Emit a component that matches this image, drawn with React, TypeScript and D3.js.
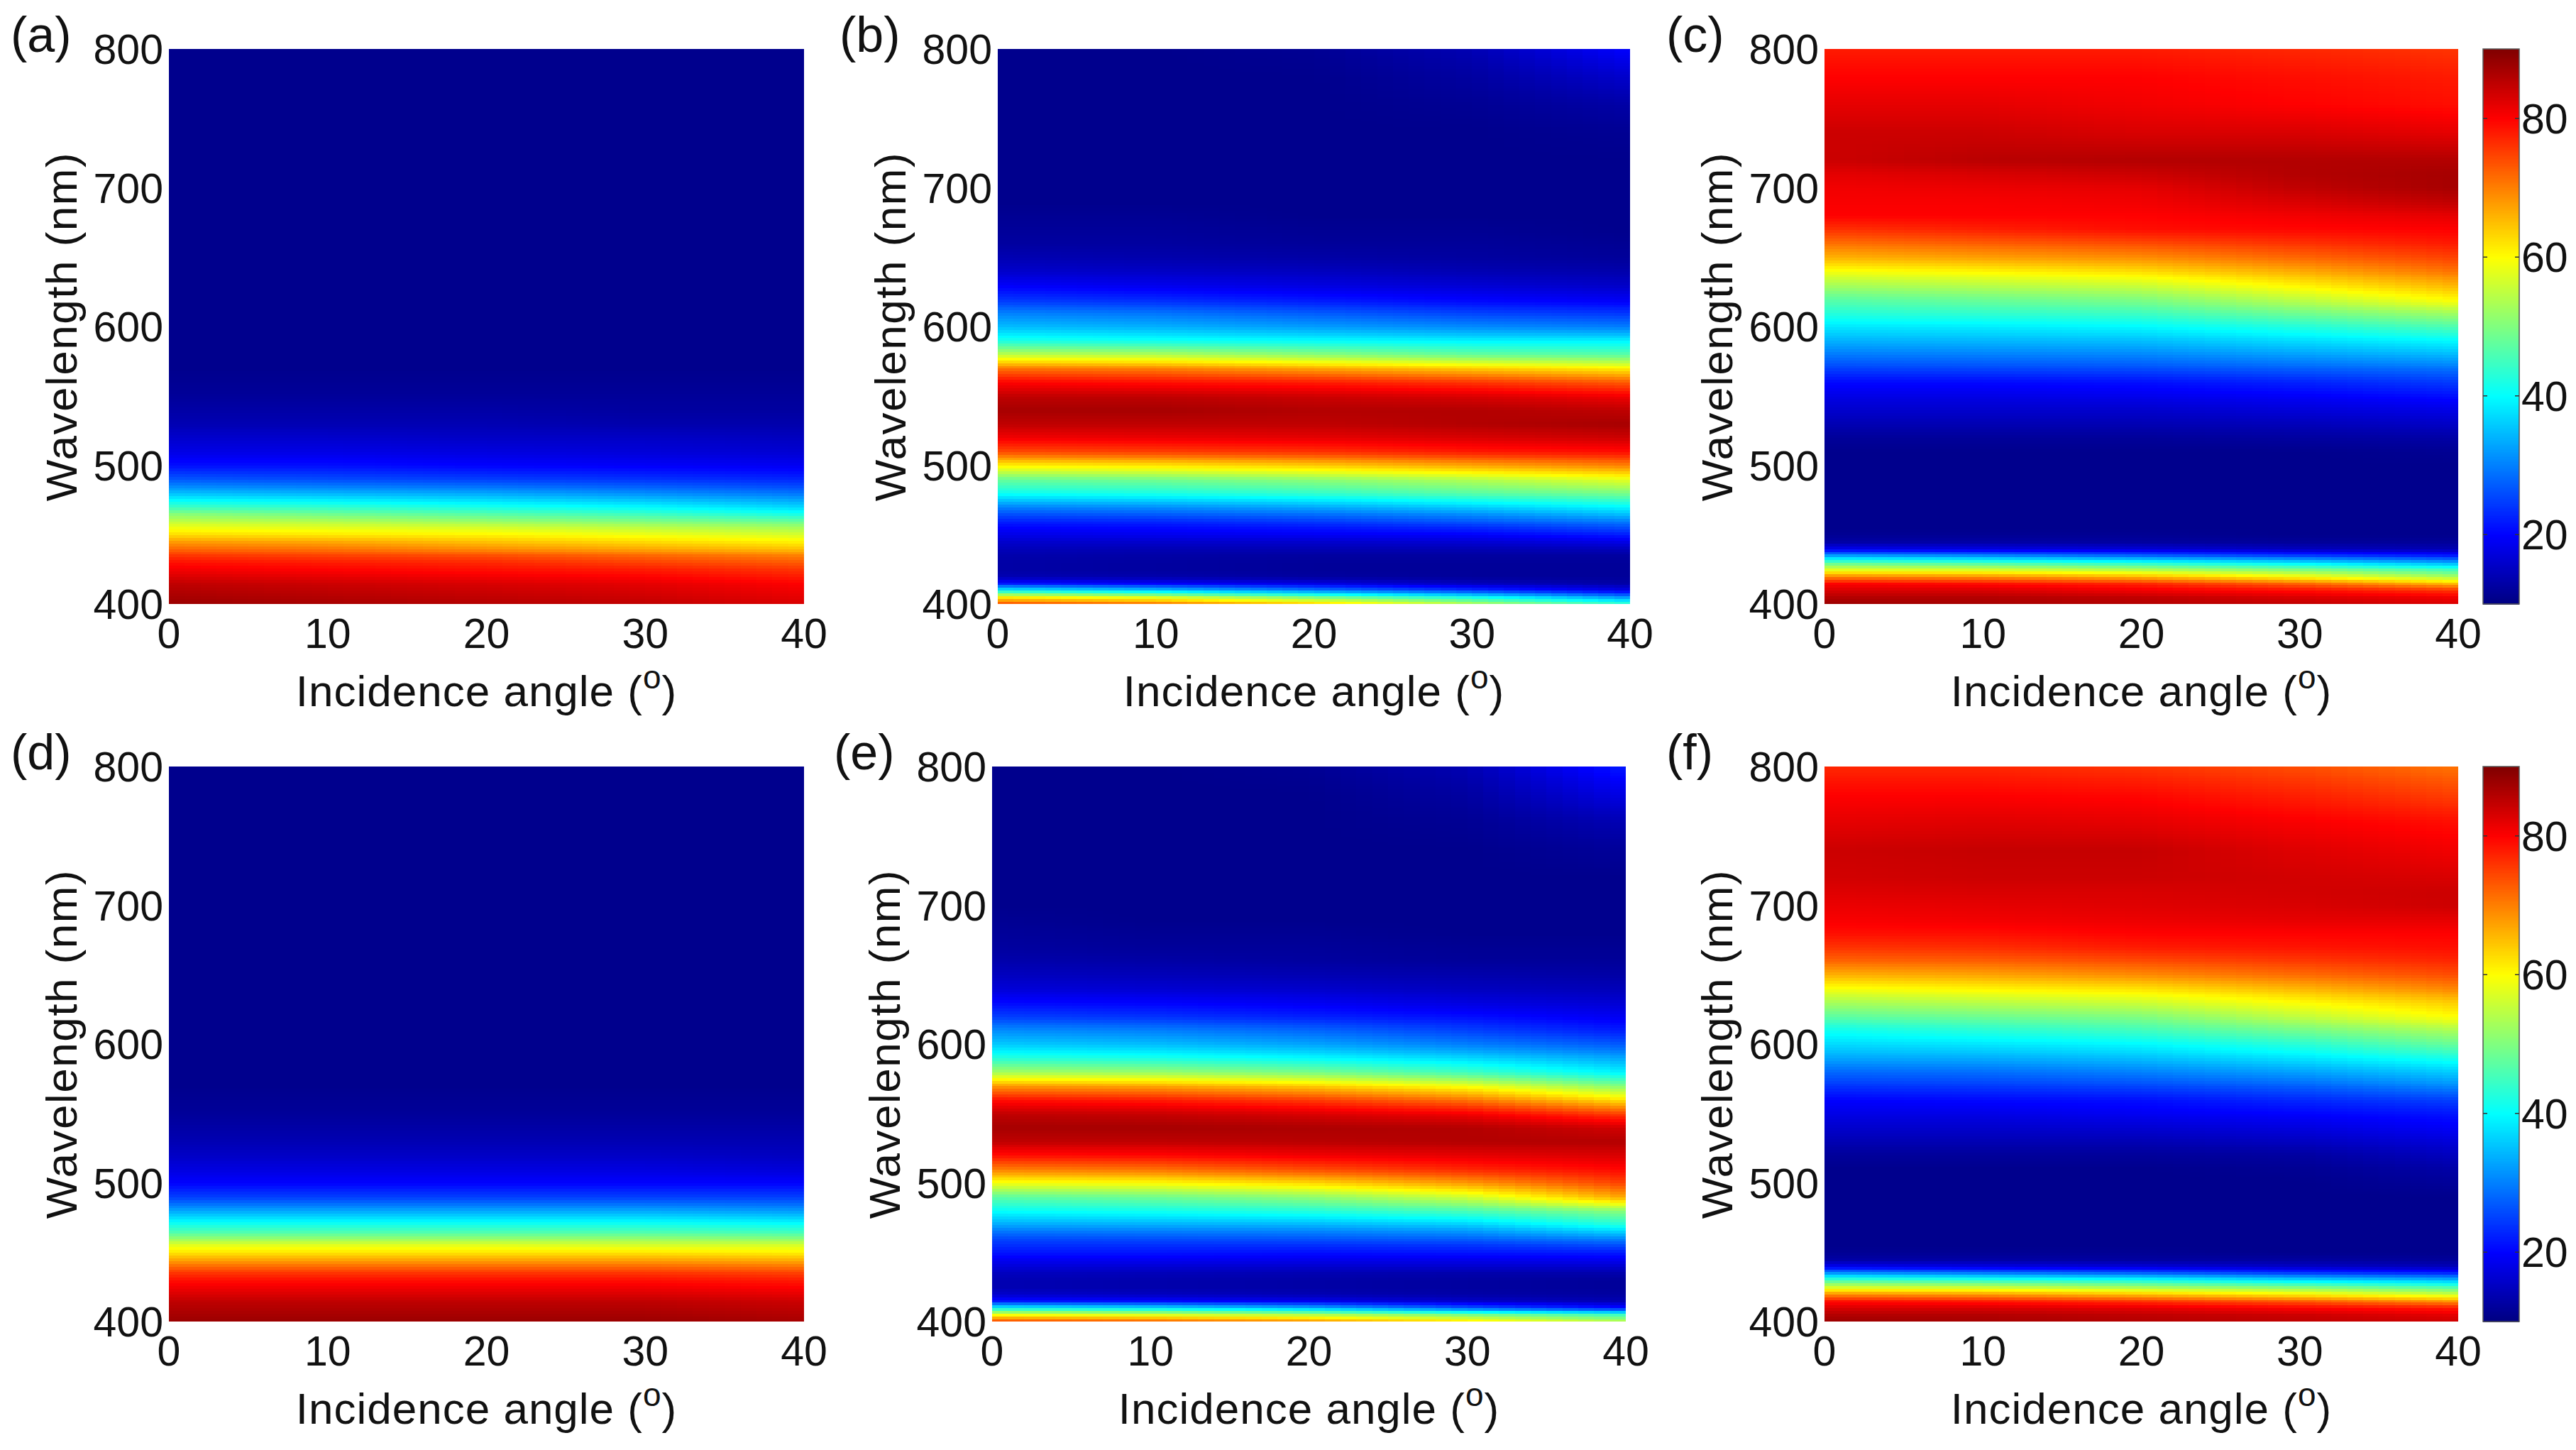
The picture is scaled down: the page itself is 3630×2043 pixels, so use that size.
import React from 'react';
import * as d3 from 'd3';

// ---------------- data (%) ----------------
const angleKnots = [0, 10, 20, 30, 40];
const wavelengthKnots = [
  400, 405, 410, 415, 420, 425, 430, 435, 440, 445, 450, 455, 460, 465, 470,
  480, 490, 500, 510, 520, 530, 540, 550, 560, 570, 580, 590, 600, 610, 620,
  630, 640, 650, 660, 670, 680, 690, 700, 710, 720, 740, 760, 780, 800,
];

// each row: values at incidence angles 0,10,20,30,40 for the wavelength knot of the same index
const panelA = [
  [88, 87, 86, 85, 83], [87, 86, 85, 84, 82], [86, 85, 84, 83, 81], [85, 84, 83, 82, 80],
  [83, 82, 81, 80, 78], [81, 80, 79, 78, 76], [79, 78, 77, 75, 73], [76, 75, 74, 72, 70],
  [72, 71, 69, 67, 65], [68, 67, 65, 63, 61], [63, 62, 61, 59, 57], [59, 58, 57, 55, 53],
  [55, 54, 52, 50, 48], [51, 49, 47, 45, 42], [45, 44, 42, 40, 37],
  [35, 34, 33, 31, 29], [27, 26, 25, 24, 23], [21, 21, 20, 19.5, 19], [18, 18, 17.5, 17, 16.5],
  [16, 16, 15.5, 15.5, 15], [14, 14, 14, 13.5, 13.5], [13, 13, 13, 12.5, 12.5], [12, 12, 12, 12, 12],
  [11.5, 11.5, 11.5, 11.5, 11.5], [11, 11, 11, 11, 11], [11, 11, 11, 11, 11], [11, 11, 11, 11, 11],
  [11, 11, 11, 11, 11], [11, 11, 11, 11, 11], [11, 11, 11, 11, 11], [11, 11, 11, 11, 11],
  [11, 11, 11, 11, 11], [11, 11, 11, 11, 11], [11, 11, 11, 11, 11], [11, 11, 11, 11, 11],
  [11, 11, 11, 11, 11], [11, 11, 11, 11, 11], [11, 11, 11, 11, 11], [11, 11, 11, 11, 11],
  [11, 11, 11, 11, 11], [11, 11, 11, 11, 11], [11, 11, 11, 11, 11], [11, 11, 11, 11, 11],
  [11, 11, 11, 11, 11],
];

const panelB = [
  [75, 72, 65, 55, 45], [62, 58, 50, 42, 32], [40, 36, 30, 24, 18], [22, 20, 18, 15, 13],
  [14, 13.5, 12.5, 12, 12], [13, 12.5, 12, 12, 12], [13, 12.5, 12, 12, 12], [13.5, 13, 12.5, 12.5, 12.5],
  [14.5, 14, 14, 14, 14.5], [16, 16, 16, 16.5, 18], [18, 18.5, 19, 19.5, 22], [20, 20.5, 21.5, 23, 26],
  [22.5, 23, 24.5, 27, 30], [26, 27, 28.5, 31, 35], [30, 31, 33, 36, 39.5],
  [41, 42, 44, 47, 49.5], [48, 49, 51, 54, 58], [61, 62, 64, 67, 70], [74, 75, 76, 78, 79],
  [81, 81.5, 82, 83, 84], [85, 85, 85, 86, 87], [87, 87, 86, 86, 85], [85, 85, 84, 83, 81],
  [80, 79, 78, 76, 73], [71, 70, 67, 64, 61], [55, 54, 51, 48, 47], [42, 41, 40, 39, 39],
  [35, 34, 32.5, 31, 30], [30, 29, 27, 25, 24], [24, 23, 21.5, 20, 19], [19.5, 18.5, 17.5, 16.5, 15.5],
  [16, 15.5, 15, 14, 13.5], [14, 13.5, 13, 12.5, 12], [12.5, 12.5, 12, 12, 11.5], [12, 12, 11.5, 11.5, 11],
  [11.5, 11.5, 11, 11, 11], [11, 11, 11, 11, 11], [11, 11, 11, 11, 11], [11, 11, 11, 11, 11],
  [11, 11, 11, 11, 11], [11, 11, 11, 11, 11.5], [11, 11, 11, 11.5, 13], [11, 11, 11, 12.5, 16],
  [11, 11, 11.5, 14, 20],
];

const panelC = [
  [88, 87, 86, 85, 83], [86, 86, 85, 83, 81], [83, 83, 81, 79, 76], [80, 79, 77, 72, 65],
  [70, 69, 66, 60, 53], [58, 57, 54, 50, 45], [47, 45, 42, 38, 33], [33, 31, 28, 25, 22],
  [19, 18, 17, 15, 14], [13, 13, 12.5, 12, 12], [11.5, 11.5, 11.5, 11, 11], [11, 11, 11, 11, 11],
  [11, 11, 11, 11, 11], [11, 11, 11, 11, 11], [11, 11, 11, 11, 11],
  [11, 11, 11, 11, 11], [11, 11, 11, 11, 11], [11, 11, 11, 11, 11], [11, 11, 11, 11, 11.5],
  [12, 12, 12, 12.5, 13], [14, 14, 14, 14.5, 15.5], [16, 16, 16, 17, 18], [18, 18, 18.5, 19.5, 21],
  [20.5, 20.5, 21, 22.5, 24.5], [25, 25.5, 26, 27.5, 29], [29.5, 30, 30.5, 32.5, 34.5], [34, 34.5, 35, 37.5, 40],
  [38, 38.5, 39.5, 42.5, 46], [43, 44, 45, 49, 53], [47, 48.5, 50, 55, 60.5], [53, 54.5, 56, 61, 66],
  [59, 60.5, 62.5, 66.5, 71], [66, 67.5, 69, 72, 75], [71, 72.5, 74, 76, 78], [76, 77.5, 79, 79.5, 80],
  [80, 80, 80, 81, 82], [80.5, 80.5, 81, 83, 85], [81, 81.5, 82, 85, 87], [82, 83, 84, 86, 87],
  [84, 85.5, 86, 86, 86], [84, 84, 83, 83, 82], [82, 82, 81, 80, 79], [80, 80, 80, 79, 78],
  [78, 78, 78, 77, 76],
];

const panelD = [
  [88, 88, 88, 88, 87], [87, 87, 87, 87, 86], [86, 86, 86, 86, 85], [85, 85, 85, 85, 84],
  [83, 83, 83, 83, 82], [81, 81, 81, 81, 80], [79, 79, 79, 79, 78], [76, 76, 76, 76, 75],
  [72, 72, 72, 72, 71], [67, 67, 67, 67, 66], [62, 62, 62, 62, 61], [58, 58, 58, 57, 57],
  [52, 52, 52, 52, 51], [46, 46, 46, 46, 45], [42, 42, 42, 42, 41],
  [33, 33, 33, 33, 32], [25, 25, 25, 25, 25], [20, 20, 20, 20, 20], [17.5, 17.5, 17.5, 17.5, 17],
  [15.5, 15.5, 15.5, 15.5, 15], [14, 14, 14, 14, 14], [13, 13, 13, 13, 13], [12, 12, 12, 12, 12],
  [11.5, 11.5, 11.5, 11.5, 11.5], [11, 11, 11, 11, 11], [11, 11, 11, 11, 11], [11, 11, 11, 11, 11],
  [11, 11, 11, 11, 11], [11, 11, 11, 11, 11], [11, 11, 11, 11, 11], [11, 11, 11, 11, 11],
  [11, 11, 11, 11, 11], [11, 11, 11, 11, 11], [11, 11, 11, 11, 11], [11, 11, 11, 11, 11],
  [11, 11, 11, 11, 11], [11, 11, 11, 11, 11], [11, 11, 11, 11, 11], [11, 11, 11, 11, 11],
  [11, 11, 11, 11, 11], [11, 11, 11, 11, 11], [11, 11, 11, 11, 11], [11, 11, 11, 11, 11],
  [11, 11, 11, 11, 11],
];

const panelE = [
  [76, 74, 70, 63, 55], [60, 58, 55, 50, 45], [40, 38, 34, 27, 21], [22, 21, 19, 16, 14],
  [16, 15, 14, 13, 12.5], [14, 13.5, 13, 12.5, 12], [14, 13.5, 13, 12.5, 12], [15, 14.5, 14, 13.5, 13.5],
  [17, 16.5, 16, 16, 16], [19, 19, 18.5, 18.5, 19], [21.5, 21.5, 21, 21.5, 22], [23.5, 23.5, 23.5, 24, 26],
  [25.5, 26, 26.5, 27.5, 30.5], [29, 29.5, 30, 31.5, 36.5], [33, 33.5, 34, 36, 42.5],
  [40.5, 41.5, 43, 46, 51], [47, 48.5, 51, 56, 67], [59, 60, 63, 68, 75], [70, 71, 74, 77, 79.5],
  [79, 79.5, 81, 82, 83], [85, 85, 85.5, 86, 86], [87, 87, 86.5, 86, 83.5], [85, 84.5, 83, 81, 75],
  [79, 78, 75.5, 71, 62], [68, 67, 64, 59, 50], [53, 52, 49.5, 45, 39], [43, 42, 40, 37, 33],
  [36, 35, 33, 30, 27], [31, 30, 28, 25, 22], [25, 24, 22.5, 21, 19], [20.5, 20, 19, 17.5, 16.5],
  [17, 16.5, 16, 15, 14.5], [15, 14.5, 14, 13.5, 13], [13.5, 13, 12.5, 12, 12], [12.5, 12, 12, 11.5, 11.5],
  [12, 11.5, 11.5, 11, 11], [11.5, 11, 11, 11, 11], [11, 11, 11, 11, 11], [11, 11, 11, 11, 11],
  [11, 11, 11, 11, 11], [11, 11, 11, 11, 12], [11, 11, 11, 11.5, 14], [11, 11, 11, 12.5, 18],
  [11, 11, 11.5, 14, 22],
];

const panelF = [
  [88, 87, 86, 85, 84], [86, 86, 85, 84, 82], [83, 83, 82, 80, 78], [79, 78, 76, 73, 68],
  [69, 68, 65, 61, 56], [57, 56, 53, 50, 46], [46, 44, 42, 38, 35], [32, 30, 28, 25, 23],
  [19, 18, 17, 15.5, 14.5], [13, 13, 12.5, 12.5, 12], [11.5, 11.5, 11.5, 11, 11], [11, 11, 11, 11, 11],
  [11, 11, 11, 11, 11], [11, 11, 11, 11, 11], [11, 11, 11, 11, 11],
  [11, 11, 11, 11, 11], [11, 11, 11, 11, 11], [11, 11, 11, 11, 12], [11, 11, 11, 11.5, 13],
  [12, 12, 12, 12.5, 15], [14, 14, 14, 15, 17], [16, 16, 16.5, 17.5, 19.5], [18, 18, 19, 20, 21.5],
  [20, 20.5, 21, 23, 25], [24, 24.5, 25.5, 27.5, 31], [28, 28.5, 30, 32.5, 36], [33, 33.5, 35, 38, 42],
  [37, 38, 39.5, 43, 48], [41, 43, 45, 49, 53.5], [47, 48.5, 50, 55, 60], [53, 54.5, 56, 60, 64],
  [59, 60.5, 62, 65.5, 69.5], [66, 67, 69, 71.5, 74], [72, 72.5, 74, 75.5, 77], [76, 76.5, 78, 78.5, 79],
  [79, 79, 80, 80, 80], [80.5, 81, 81.5, 82, 82], [81.5, 82, 82.5, 83, 84], [82.5, 83, 83, 83.5, 84],
  [83.5, 84, 84, 83.5, 83], [84, 84.5, 84.5, 82.5, 81], [82, 82.5, 82, 80.5, 79], [80, 80, 79.5, 77.5, 75],
  [77, 77, 76, 74, 71],
];

const panelData = [panelA, panelB, panelC, panelD, panelE, panelF];
const panelLabels = ['(a)', '(b)', '(c)', '(d)', '(e)', '(f)'];
const xTicks = [0, 10, 20, 30, 40];
const yTicks = [400, 500, 600, 700, 800];
const colorbarTicks = [20, 40, 60, 80];
const colorDomain = [10, 90];

// ---------------- layout ----------------
const W = 3630;
const H = 2043;
const FONT = "'Liberation Sans', Arial, Helvetica, sans-serif";
const layouts = [
  { left: 238, right: 1133, top: 69, bottom: 851, colorbar: false },
  { left: 1406, right: 2297, top: 69, bottom: 851, colorbar: false },
  { left: 2571, right: 3464, top: 69, bottom: 851, colorbar: true },
  { left: 238, right: 1133, top: 1080, bottom: 1862, colorbar: false },
  { left: 1398, right: 2291, top: 1080, bottom: 1862, colorbar: false },
  { left: 2571, right: 3464, top: 1080, bottom: 1862, colorbar: true },
];
const CB_LEFT = 3499;
const CB_RIGHT = 3550;
const TICK_FS = 59;
const TITLE_FS = 62;

// MATLAB "jet" colour map over the colour-bar range
const jet = d3
  .scaleLinear<string>()
  .domain([10, 20, 40, 60, 80, 90])
  .range(['#000080', '#0000ff', '#00ffff', '#ffff00', '#ff0000', '#800000'])
  .interpolate(d3.interpolateRgb)
  .clamp(true);

function makeField(rows: number[][]) {
  const cols = angleKnots.map((_, j) =>
    d3.scaleLinear().domain(wavelengthKnots).range(rows.map((r) => r[j])).clamp(true)
  );
  const aIdx = d3
    .scaleLinear()
    .domain(angleKnots)
    .range(d3.range(angleKnots.length))
    .clamp(true);
  return (angle: number, wl: number) => {
    const p = aIdx(angle);
    const j = Math.min(Math.floor(p), angleKnots.length - 2);
    const f = p - j;
    return cols[j](wl) * (1 - f) + cols[j + 1](wl) * f;
  };
}

const ANGLE_STEP = 1;
const WL_STEP = 2;

function Panel({ idx }: { idx: number }) {
  const L = layouts[idx];
  const x = d3.scaleLinear().domain([0, 40]).range([L.left, L.right]);
  const y = d3.scaleLinear().domain([400, 800]).range([L.bottom, L.top]);
  const field = makeField(panelData[idx]);
  const cells: React.ReactNode[] = [];
  for (const a of d3.range(0, 40, ANGLE_STEP)) {
    for (const w of d3.range(400, 800, WL_STEP)) {
      const x0 = x(a);
      const x1 = x(a + ANGLE_STEP);
      const y0 = y(w + WL_STEP);
      const y1 = y(w);
      cells.push(
        <rect
          key={`${a}-${w}`}
          x={x0}
          y={y0}
          width={x1 - x0 + 0.8}
          height={y1 - y0 + 0.8}
          fill={jet(field(a + ANGLE_STEP / 2, w + WL_STEP / 2))}
        />
      );
    }
  }
  const cx = (L.left + L.right) / 2;
  const cy = (L.top + L.bottom) / 2;
  const clipId = `clip-${idx}`;
  let colorbar: React.ReactNode = null;
  if (L.colorbar) {
    const cy2 = d3.scaleLinear().domain(colorDomain).range([L.bottom, L.top]);
    const steps = d3.range(colorDomain[0], colorDomain[1], 0.25);
    colorbar = (
      <g>
        <g shapeRendering="crispEdges">
          {steps.map((v) => (
            <rect
              key={v}
              x={CB_LEFT}
              y={cy2(v + 0.25)}
              width={CB_RIGHT - CB_LEFT}
              height={cy2(v) - cy2(v + 0.25) + 0.8}
              fill={jet(v + 0.125)}
            />
          ))}
        </g>
        <rect
          x={CB_LEFT}
          y={L.top}
          width={CB_RIGHT - CB_LEFT}
          height={L.bottom - L.top}
          fill="none"
          stroke="#555"
          strokeWidth={1.5}
        />
        {colorbarTicks.map((t) => (
          <g key={t}>
            <line x1={CB_LEFT} x2={CB_LEFT + 6} y1={cy2(t)} y2={cy2(t)} stroke="#333" strokeWidth={1.5} />
            <line x1={CB_RIGHT - 6} x2={CB_RIGHT} y1={cy2(t)} y2={cy2(t)} stroke="#333" strokeWidth={1.5} />
            <text
              x={CB_RIGHT + 3}
              y={cy2(t)}
              dy="0.36em"
              fontSize={TICK_FS}
              fontFamily={FONT}
              textAnchor="start"
              fill="#111"
            >
              {t}
            </text>
          </g>
        ))}
      </g>
    );
  }
  return (
    <g>
      <defs>
        <clipPath id={clipId}>
          <rect x={L.left} y={L.top} width={L.right - L.left} height={L.bottom - L.top} />
        </clipPath>
      </defs>
      <g clipPath={`url(#${clipId})`} shapeRendering="crispEdges">
        {cells}
      </g>
      {yTicks.map((t) => (
        <text
          key={`y${t}`}
          x={L.left - 8}
          y={y(t)}
          dy="0.36em"
          fontSize={TICK_FS}
          fontFamily={FONT}
          textAnchor="end"
          fill="#111"
        >
          {t}
        </text>
      ))}
      {xTicks.map((t) => (
        <text
          key={`x${t}`}
          x={x(t)}
          y={L.bottom + 62}
          fontSize={TICK_FS}
          fontFamily={FONT}
          textAnchor="middle"
          fill="#111"
        >
          {t}
        </text>
      ))}
      <text
        x={cx}
        y={L.bottom + 144}
        fontSize={TITLE_FS}
        fontFamily={FONT}
        letterSpacing={1}
        textAnchor="middle"
        fill="#111"
      >
        Incidence angle (
        <tspan fontSize={46} dy={-25}>
          o
        </tspan>
        <tspan fontSize={TITLE_FS} dy={25}>
          )
        </tspan>
      </text>
      <text
        transform={`translate(${L.left - 130},${cy}) rotate(-90)`}
        fontSize={TITLE_FS}
        fontFamily={FONT}
        letterSpacing={1.5}
        textAnchor="middle"
        fill="#111"
      >
        Wavelength (nm)
      </text>
      <text x={L.left - 223} y={L.top + 4} fontSize={70} fontFamily={FONT} textAnchor="start" fill="#111">
        {panelLabels[idx]}
      </text>
      {colorbar}
    </g>
  );
}

export default function App() {
  return (
    <svg
      width={W}
      height={H}
      viewBox={`0 0 ${W} ${H}`}
      style={{ position: 'absolute', left: 0, top: 0, display: 'block', background: '#fff' }}
    >
      <rect x={0} y={0} width={W} height={H} fill="#fff" />
      {panelData.map((_, i) => (
        <Panel key={i} idx={i} />
      ))}
    </svg>
  );
}
